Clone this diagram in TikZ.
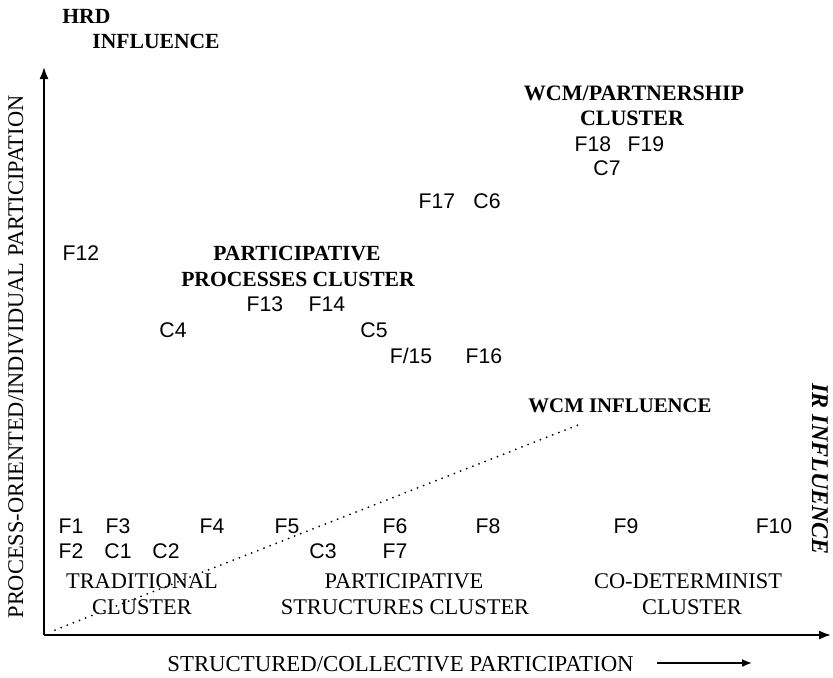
\documentclass[tikz,border=0pt]{standalone}
\usepackage{fontspec}
\setmainfont{Liberation Serif}
\newfontfamily\codefont{Liberation Sans}
\usetikzlibrary{arrows.meta}
\begin{document}
\begin{tikzpicture}[x=0.5pt,y=-0.5pt,
  boldlbl/.style={inner sep=0pt,align=center,font=\fontsize{10.8}{13}\selectfont\bfseries},
  reglbl/.style={inner sep=0pt,align=center,font=\fontsize{11.2}{13}\selectfont},
  code/.style={inner sep=0pt,font=\fontsize{10.6}{12}\selectfont\codefont},
  axis/.style={line width=0.85pt,-{Latex[length=6pt,width=4.5pt]}},
  infl/.style={line width=1pt,line cap=round,dash pattern=on 0pt off 3.3pt}]
\useasboundingbox (0,0) rectangle (833,677);
% axes
\coordinate (O) at (44,635);
\coordinate (ytop) at (44,67);
\coordinate (xend) at (831,635);
\draw[axis] (O) -- (ytop);
\draw[axis] (O) -- (xend);
% axis labels
\node[boldlbl,anchor=west] (hrd) at (62,16) {HRD};
\node[boldlbl,anchor=west] (hrdinf) at (92,41) {INFLUENCE};
\node[reglbl,rotate=90] (ylab) at (16,357) {PROCESS-ORIENTED/INDIVIDUAL PARTICIPATION};
\node[reglbl,font=\fontsize{11.4}{13}\selectfont,anchor=west] (xlab) at (167,664) {STRUCTURED/COLLECTIVE PARTICIPATION};
\coordinate (xa1) at (657,663);
\coordinate (xa2) at (752,663);
\draw[line width=0.85pt,-{Latex[length=5pt,width=4pt]}] (xa1) -- (xa2);
\node[boldlbl,font=\fontsize{12}{14}\selectfont\bfseries\itshape,rotate=-90] (ir) at (820,469) {IR INFLUENCE};
% WCM influence
\node[boldlbl,font=\fontsize{10.4}{13}\selectfont\bfseries] (wcminf) at (620,406) {WCM INFLUENCE};
\coordinate (d1) at (55,630);
\coordinate (d2) at (578,425);
\draw[infl] (d1) -- (d2);
% clusters
\node[boldlbl,font=\fontsize{11}{13}\selectfont\bfseries] (wcm1) at (634,93) {WCM/PARTNERSHIP};
\node[boldlbl,font=\fontsize{11}{13}\selectfont\bfseries] (wcm2) at (632,118) {CLUSTER};
\node[boldlbl] (pp1) at (297,253) {PARTICIPATIVE};
\node[boldlbl] (pp2) at (298,279) {PROCESSES CLUSTER};
\node[reglbl] (tr1) at (142,581) {TRADITIONAL};
\node[reglbl] (tr2) at (142,607) {CLUSTER};
\node[reglbl] (ps1) at (404,581) {PARTICIPATIVE};
\node[reglbl] (ps2) at (405,607) {STRUCTURES CLUSTER};
\node[reglbl] (cd1) at (688,581) {CO-DETERMINIST};
\node[reglbl] (cd2) at (692,607) {CLUSTER};
% cases
\node[code] (f18) at (593,144) {F18};
\node[code] (f19) at (646,144) {F19};
\node[code] (c7) at (607,168) {C7};
\node[code] (f17) at (437,201) {F17};
\node[code] (c6) at (487,201) {C6};
\node[code] (f12) at (81,253) {F12};
\node[code] (f13) at (265,304) {F13};
\node[code] (f14) at (327,304) {F14};
\node[code] (c4) at (173,330) {C4};
\node[code] (c5) at (374,330) {C5};
\node[code] (f15) at (411,356) {F/15};
\node[code] (f16) at (484,356) {F16};
\node[code] (f1) at (71,526) {F1};
\node[code] (f3) at (118,526) {F3};
\node[code] (f4) at (212,526) {F4};
\node[code] (f5) at (287,526) {F5};
\node[code] (f6) at (395,526) {F6};
\node[code] (f8) at (488,526) {F8};
\node[code] (f9) at (626,526) {F9};
\node[code] (f10) at (774,526) {F10};
\node[code] (f2) at (71,551) {F2};
\node[code] (c1) at (118,551) {C1};
\node[code] (c2) at (166,551) {C2};
\node[code] (c3) at (323,551) {C3};
\node[code] (f7) at (395,551) {F7};
\end{tikzpicture}
\end{document}
